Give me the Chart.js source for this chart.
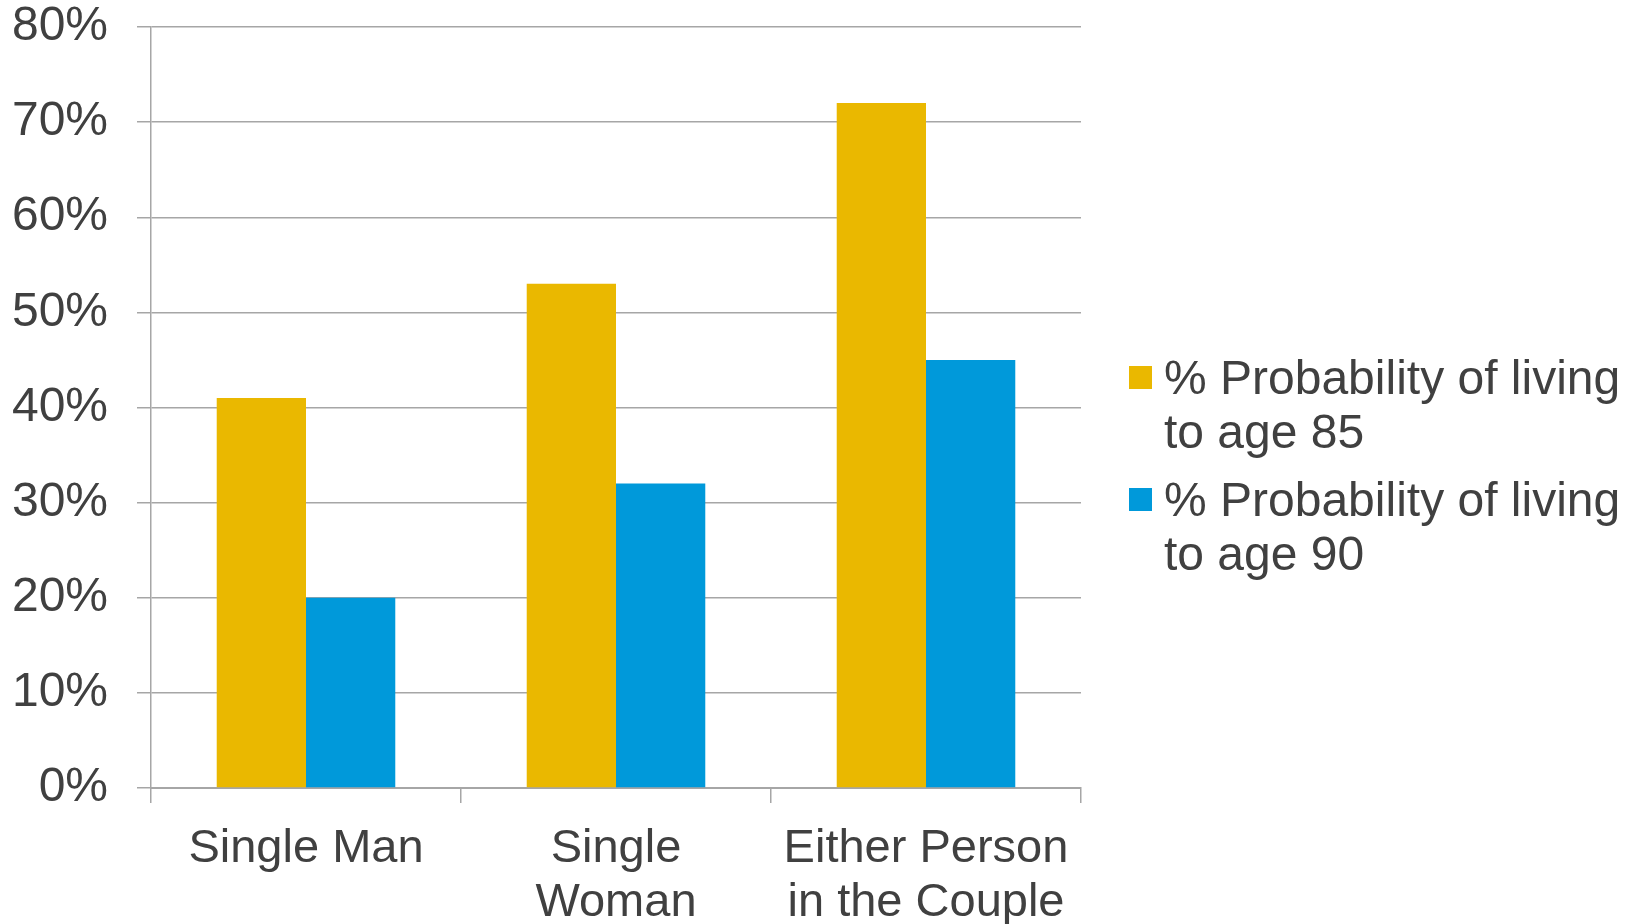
<!DOCTYPE html>
<html>
<head>
<meta charset="utf-8">
<script src="https://cdn.jsdelivr.net/npm/chart.js@4/dist/chart.umd.min.js"></script>
<style>
  html, body { margin: 0; padding: 0; background: #fff; }
  #wrap { width: 1631px; height: 924px; position: relative; }
</style>
</head>
<body>
<div id="wrap"><canvas id="my-chart"></canvas></div>
<script>
const categories = [
  ["Single Man"],
  ["Single", "Woman"],
  ["Either Person", "in the Couple"],
];
const seriesLabels = [
  ["% Probability of living", "to age 85"],
  ["% Probability of living", "to age 90"],
];
const age85 = [41, 53, 72];
const age90 = [20, 32, 45];
const seriesColors = ["#EAB800", "#0099DA"];
const yTicks = [0, 10, 20, 30, 40, 50, 60, 70, 80];

const FONT = "'Liberation Sans', Arial, sans-serif";
const TEXT = "#404040";
const GRID = "#a6a6a6";

// legend drawn on the canvas, right of the plot, two lines per entry
const sideLegend = {
  id: "sideLegend",
  afterDraw(chart) {
    const ctx = chart.ctx;
    const x0 = 1129, y0 = 394, lineGap = 54, entryGap = 122, box = 23;
    ctx.save();
    ctx.font = "48px " + FONT;
    ctx.textBaseline = "alphabetic";
    chart.data.datasets.forEach((ds, i) => {
      const base = y0 + i * entryGap;
      ctx.fillStyle = ds.backgroundColor;
      ctx.fillRect(x0, base - 28, box, box);
      ctx.fillStyle = TEXT;
      seriesLabels[i].forEach((line, j) => {
        ctx.fillText(line, x0 + 35, base + j * lineGap);
      });
    });
    ctx.restore();
  },
};

const data = {
  labels: categories,
  datasets: [
    {
      label: seriesLabels[0].join(" "),
      data: age85,
      backgroundColor: seriesColors[0],
    },
    {
      label: seriesLabels[1].join(" "),
      data: age90,
      backgroundColor: seriesColors[1],
    },
  ],
};

const config = {
  type: "bar",
  data: data,
  plugins: [sideLegend],
  options: {
    responsive: true,
    maintainAspectRatio: false,
    animation: false,
    layout: {
      padding: { top: 27, right: 550, bottom: 0, left: 0 },
    },
    datasets: {
      bar: {
        categoryPercentage: 0.576,
        barPercentage: 1.0,
      },
    },
    plugins: {
      legend: { display: false },
      tooltip: { enabled: false },
    },
    scales: {
      x: {
        grid: {
          offset: true,
          drawOnChartArea: false,
          drawTicks: true,
          tickLength: 15,
          color: GRID,
          lineWidth: 1.5,
        },
        border: { color: GRID, width: 2 },
        ticks: {
          color: TEXT,
          padding: 19,
          maxRotation: 0,
          autoSkip: false,
          font: { family: FONT, size: 47, lineHeight: 1.15 },
        },
        afterFit(scale) {
          scale.height = 136;
          scale.paddingLeft = 0;
          scale.paddingRight = 0;
        },
      },
      y: {
        min: 0,
        max: 80,
        afterBuildTicks(scale) {
          scale.ticks = yTicks.map(v => ({ value: v }));
        },
        grid: {
          color: GRID,
          lineWidth: 1.5,
          tickLength: 14,
        },
        border: { color: GRID, width: 1.5 },
        ticks: {
          color: TEXT,
          padding: 29,
          font: { family: FONT, size: 48 },
          callback: v => v + "%",
        },
        afterFit(scale) {
          scale.width = 151;
          scale.paddingTop = 0;
          scale.paddingBottom = 0;
        },
      },
    },
  },
};

const myChart = new Chart(document.getElementById("my-chart"), config);
</script>
</body>
</html>
